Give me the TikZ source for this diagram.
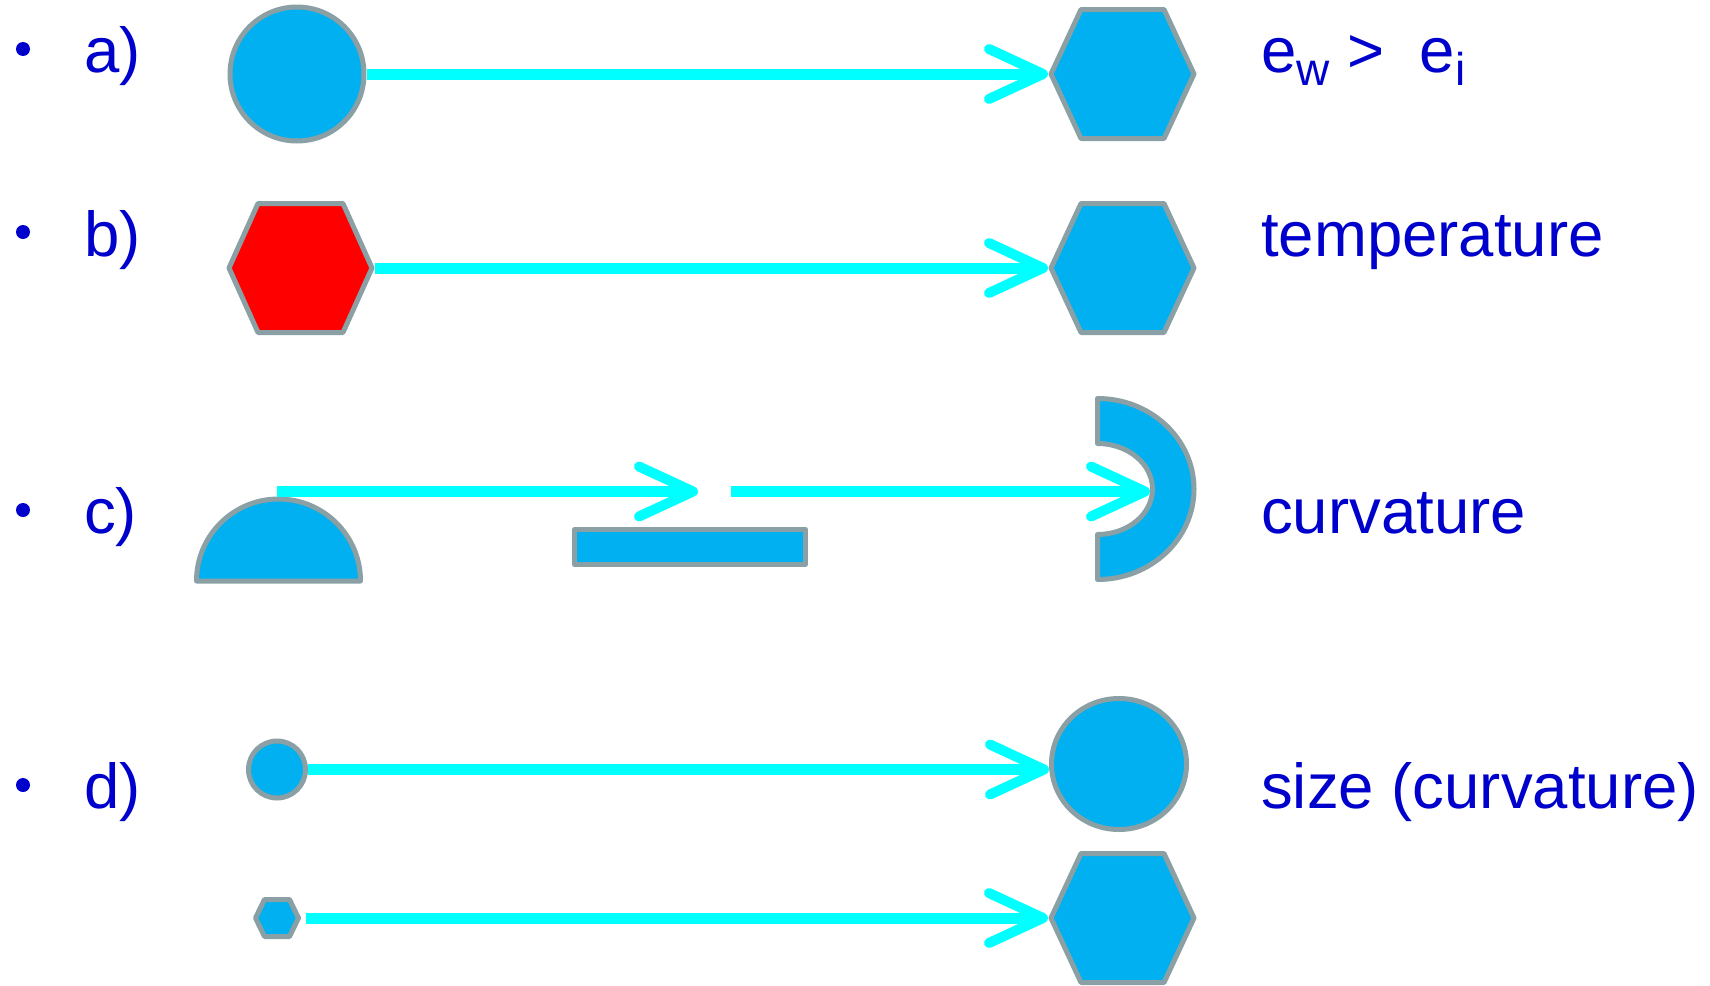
\documentclass[tikz,border=0pt]{standalone}
\usepackage{fontspec}
\setmainfont{Liberation Sans}
\usetikzlibrary{arrows.meta,shapes.geometric}
\definecolor{txtblue}{RGB}{0,0,204}
\definecolor{shpblue}{RGB}{0,176,240}
\definecolor{shpgray}{RGB}{138,160,164}
\definecolor{arrcyan}{RGB}{0,255,255}
\definecolor{shpred}{RGB}{255,0,0}
\newcommand{\hexshape}[3]{%
  \draw[shp,fill=#3] (#1.west) -- ([xshift=#2]#1.north west) -- ([xshift=-#2]#1.north east)
    -- (#1.east) -- ([xshift=-#2]#1.south east) -- ([xshift=#2]#1.south west) -- cycle;}
\begin{document}
\begin{tikzpicture}[x=1pt,y=-1pt,
  shp/.style={draw=shpgray,line width=5pt,line join=round},
  bighex/.style={rectangle,draw=none,inner sep=0pt,outer sep=0pt,minimum width=143pt,minimum height=129pt},
  smallhex/.style={rectangle,draw=none,inner sep=0pt,outer sep=0pt,minimum width=43pt,minimum height=37pt},
  conn/.style={draw=arrcyan,line width=11pt,-{Straight Barb[length=54pt,width=50pt,line width=10pt,round]}},
  lbl/.style={text=txtblue,font=\fontsize{63.5}{70}\selectfont,inner sep=0pt,anchor=base west},
  bullet/.style={circle,fill=txtblue,inner sep=0pt,minimum size=14pt}]
\useasboundingbox (0,0) rectangle (1710,985);
\fill[white] (0,0) rectangle (1710,985);

% bullets and labels
\node[bullet] (ba) at (23,49) {};
\node[bullet] (bb) at (23,232) {};
\node[bullet] (bc) at (23,510) {};
\node[bullet] (bd) at (23,785) {};
\node[lbl] (la) at (84,72) {a)};
\node[lbl] (lb) at (84,256) {b)};
\node[lbl] (lc) at (84,533) {c)};
\node[lbl] (ld) at (84,808) {d)};
\node[lbl] (ta) at (1261,72) {e\raisebox{-13pt}{\fontsize{46}{46}\selectfont w} >\ \ e\raisebox{-13pt}{\fontsize{46}{46}\selectfont i}};
\node[lbl] (tb) at (1261,256) {temperature};
\node[lbl] (tc) at (1261,533) {curvature};
\node[lbl] (td) at (1261,808) {size (curvature)};

% row a
\node[shp,fill=shpblue,circle,inner sep=0pt,minimum size=134pt] (ca) at (297,74) {};
\node[bighex] (ha) at (1122.5,74) {};
\hexshape{ha}{30pt}{shpblue}

% row b
\node[bighex] (hb0) at (300.5,268) {};
\hexshape{hb0}{29pt}{shpred}
\node[bighex] (hb) at (1122.5,268) {};
\hexshape{hb}{30pt}{shpblue}

% row c
\draw[shp,fill=shpblue] (196.5,581) arc[start angle=180,end angle=360,radius=82] -- cycle;
\node[shp,fill=shpblue,rectangle,inner sep=0pt,minimum width=231pt,minimum height=35pt] (rc) at (690,547) {};
\draw[shp,fill=shpblue] (1097.5,398.5) arc[start angle=-90,end angle=90,x radius=96.5,y radius=90.5]
  -- (1097.5,534.5) arc[start angle=90,end angle=-90,x radius=55,y radius=45.5] -- cycle;
\coordinate (c0) at (277,491.5);
\coordinate (c1) at (698,491.5);
\coordinate (c2) at (731,491.5);
\coordinate (c3) at (1150,491.5);

% row d
\node[shp,fill=shpblue,circle,inner sep=0pt,minimum size=57pt] (cd) at (277,769.5) {};
\node[shp,fill=shpblue,ellipse,inner sep=0pt,minimum width=135pt,minimum height=131pt] (ed) at (1119,764) {};
\node[smallhex] (hd0) at (277,918) {};
\hexshape{hd0}{9pt}{shpblue}
\node[bighex] (hd) at (1122.5,918) {};
\hexshape{hd}{30pt}{shpblue}

% connectors
\draw[conn] (ca.east) -- ([xshift=-3pt]ha.west);
\draw[conn] ([xshift=2.5pt]hb0.east) -- ([xshift=-3pt]hb.west);
\draw[conn] (c0) -- (c1);
\draw[conn] (c2) -- (c3);
\draw[conn] (cd.east) -- (cd.east -| ed.west);
\draw[conn] ([xshift=7.5pt]hd0.east) -- ([xshift=-3pt]hd.west);
\end{tikzpicture}
\end{document}
